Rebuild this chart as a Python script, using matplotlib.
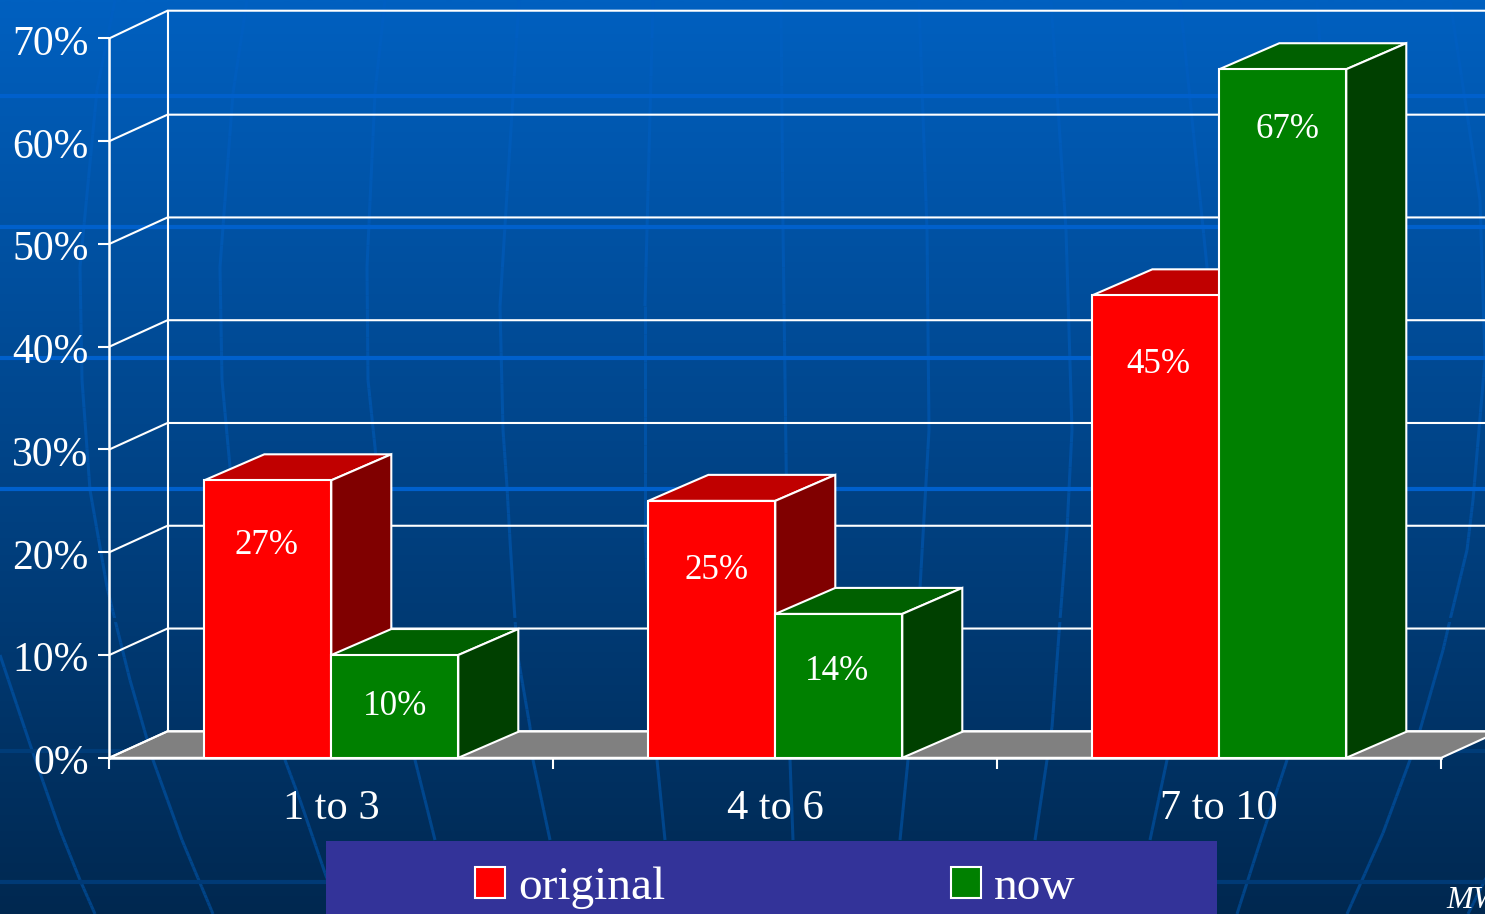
import numpy as np
import matplotlib
matplotlib.use("Agg")
import matplotlib.pyplot as plt
from matplotlib.collections import LineCollection
from matplotlib.patches import Patch, Rectangle
from matplotlib.transforms import ScaledTranslation

categories = ["1 to 3", "4 to 6", "7 to 10"]
series_names = ["original", "now"]
original = [27, 25, 45]
now = [10, 14, 67]
y_ticks = [0, 10, 20, 30, 40, 50, 60, 70]

# label offset below the bar top and sideways from the bar centre, in pixels
label_drop = {"original": [65, 70, 69], "now": [51, 58, 60]}
label_side = {"original": [-1, 5, 3], "now": [0, -2, 5]}

W, H = 1485, 914
FONT = "Liberation Serif"
WHITE = "#FFFFFF"
LW = 1.5

fig = plt.figure(figsize=(W / 100, H / 100), dpi=100)

# ---------- background ----------
bg = fig.add_axes([0, 0, 1, 1], zorder=0)
bg.set_xlim(0, W)
bg.set_ylim(H, 0)
bg.axis("off")
top_c = np.array([0, 96, 192]) / 255
bot_c = np.array([0, 40, 80]) / 255
t = np.linspace(0, 1, 256)[:, None, None]
grad = top_c[None, None, :] * (1 - t) + bot_c[None, None, :] * t
bg.imshow(grad, extent=[0, W, H, 0], aspect="auto", interpolation="bilinear", zorder=0)

meridians = [
    [(0, 655), (33, 753), (60, 830), (80, 880), (95, 914)],
    [(115, 0), (97, 90), (80, 267), (82, 380), (90, 490), (107, 587), (115, 620),
     (130, 680), (153, 760), (182, 840), (200, 883), (213, 914)],
    [(247, 0), (233, 93), (220, 267), (222, 380), (230, 467), (250, 600), (285, 760),
     (300, 800), (325, 873), (340, 914)],
    [(385, 0), (375, 93), (367, 267), (368, 380), (375, 447), (391, 623), (415, 760), (435, 840)],
    [(519, 0), (500, 306), (503, 430), (507, 487), (510, 540), (515, 620), (518, 657),
     (530, 727), (533, 760), (550, 840)],
    [(653, 0), (645, 306), (645, 528), (650, 650), (657, 760), (665, 840)],
    [(781, 0), (783, 230), (787, 528), (790, 760), (793, 840)],
    [(919, 0), (927, 230), (929, 430), (920, 588), (908, 760), (900, 840)],
    [(1051, 0), (1066, 230), (1072, 430), (1067, 530), (1060, 620), (1052, 727), (1047, 760), (1035, 840)],
    [(1180, 0), (1207, 267), (1210, 400), (1195, 620), (1167, 760), (1150, 840)],
    [(1317, 0), (1330, 200), (1335, 420), (1310, 640), (1287, 760), (1263, 833), (1237, 914)],
    [(1450, 0), (1480, 200), (1485, 360), (1473, 500), (1467, 550), (1450, 620), (1443, 650),
     (1420, 730), (1410, 760), (1383, 833), (1347, 914)],
    [(1490, 870), (1468, 914)],
]
segs, cols = [], []
for m in meridians:
    for a, b in zip(m[:-1], m[1:]):
        n = 8
        xs = np.linspace(a[0], b[0], n + 1)
        ys = np.linspace(a[1], b[1], n + 1)
        for i in range(n):
            f = (ys[i] + ys[i + 1]) / 2 / H
            segs.append([(xs[i], ys[i]), (xs[i + 1], ys[i + 1])])
            cols.append((0, (95 - 28 * f) / 255, (194 - 60 * f) / 255))
bg.add_collection(LineCollection(segs, colors=cols, linewidths=2.2, zorder=1))

for y, c in [(96, "#0060CC"), (227, "#0060CC"), (358, "#0060CC"), (489, "#0060CC"),
             (620, "#003A74"), (751, "#003C78"), (882, "#003A76")]:
    bg.plot([0, W], [y, y], color=c, lw=3, zorder=2, solid_capstyle="butt")

# legend panel and corner text
bg.add_patch(Rectangle((326, 841), 891, 80, facecolor="#333399", edgecolor="none", zorder=3))
bg.text(1446, 908, "MW", color=WHITE, fontsize=23, family=FONT, style="italic",
        ha="left", va="baseline", zorder=4)

# ---------- chart ----------
px_left, px_right, px_top, px_bottom = 109.3, 1441.3, 38.4, 757.8
ax = fig.add_axes([px_left / W, 1 - px_bottom / H, (px_right - px_left) / W, (px_bottom - px_top) / H],
                  zorder=1)
ax.patch.set_visible(False)
ax.set_xlim(-0.5, 2.5)
ax.set_ylim(0, 70)

px_x = (px_right - px_left) / 3
px_y = (px_bottom - px_top) / 70
bar_w = 127 / px_x
dx_bar, dy_bar = 60 / px_x, 26 / px_y
dx_wall, dy_wall = 58.2 / px_x, 26.5 / px_y
x_end = 2.5 + dx_wall

# floor
ax.fill([-0.5, -0.5 + dx_wall, x_end, 2.5], [0, dy_wall, dy_wall, 0], facecolor="#808080",
        edgecolor=WHITE, lw=LW, clip_on=False, zorder=1)
# walls and grid
top_gap = 27.7 / px_y
for v in y_ticks:
    dy = top_gap if v == 70 else dy_wall
    ax.plot([-0.5, -0.5 + dx_wall, x_end], [v, v + dy, v + dy], color=WHITE, lw=LW,
            clip_on=False, zorder=1.5, solid_joinstyle="miter")
ax.plot([-0.5 + dx_wall] * 2, [dy_wall, 70 + top_gap], color=WHITE, lw=LW, clip_on=False, zorder=1.5)


def box(x, h, front, top, side, z):
    left, right = x, x + bar_w
    ax.fill([left, left + dx_bar, right + dx_bar, right], [h, h + dy_bar, h + dy_bar, h],
            facecolor=top, edgecolor=WHITE, lw=LW, clip_on=False, zorder=z)
    ax.fill([right, right + dx_bar, right + dx_bar, right], [0, dy_bar, h + dy_bar, h],
            facecolor=side, edgecolor=WHITE, lw=LW, clip_on=False, zorder=z)
    ax.bar([left], [h], width=bar_w, align="edge", color=front, edgecolor=WHITE, lw=LW,
           clip_on=False, zorder=z + 0.1)


for i, cat in enumerate(categories):
    box(i - bar_w, original[i], "#FF0000", "#C00000", "#800000", 3 + i)
    box(i, now[i], "#008000", "#006000", "#004000", 3.3 + i)
    for name, vals, x0 in (("original", original, i - bar_w / 2), ("now", now, i + bar_w / 2)):
        ax.annotate(f"{vals[i]}%", xy=(x0, vals[i]),
                    xytext=(label_side[name][i] * 0.72, -label_drop[name][i] * 0.72),
                    textcoords="offset points", ha="center", va="center", color=WHITE,
                    fontsize=25.2, family=FONT, zorder=6)

for s in ("top", "right"):
    ax.spines[s].set_visible(False)
for s in ("left", "bottom"):
    ax.spines[s].set_color(WHITE)
    ax.spines[s].set_linewidth(LW + 0.3)
    ax.spines[s].set_zorder(2)

ax.set_yticks(y_ticks)
ax.set_yticklabels([f"{v}%" for v in y_ticks], fontsize=30, family=FONT, color=WHITE)
ax.tick_params(axis="y", length=8, width=LW, color=WHITE, pad=7)
ax.set_xticks(range(3))
ax.set_xticklabels(categories, fontsize=30.5, family=FONT, color=WHITE)
ax.tick_params(axis="x", which="major", length=0, pad=22.5)
ax.set_xticks([-0.5, 0.5, 1.5, 2.5], minor=True)
ax.tick_params(axis="x", which="minor", length=8, width=LW, color=WHITE)

shift = ScaledTranslation(0, -1.2 / 72, fig.dpi_scale_trans)
for lab in ax.get_yticklabels():
    lab.set_transform(lab.get_transform() + shift)

# legend
handles = [Patch(facecolor="#FF0000", edgecolor=WHITE, lw=LW),
           Patch(facecolor="#008000", edgecolor=WHITE, lw=LW)]
leg = fig.legend(handles, series_names, ncol=2, frameon=False,
                 loc="lower left", bbox_to_anchor=(474.8 / W, 1 - 909 / H),
                 borderpad=0, borderaxespad=0, handlelength=0.64, handleheight=0.62,
                 handletextpad=0.27, columnspacing=6.05,
                 prop={"family": FONT, "size": 34})
for txt in leg.get_texts():
    txt.set_color(WHITE)
leg.set_zorder(5)

fig.savefig("out.png", dpi=100)
